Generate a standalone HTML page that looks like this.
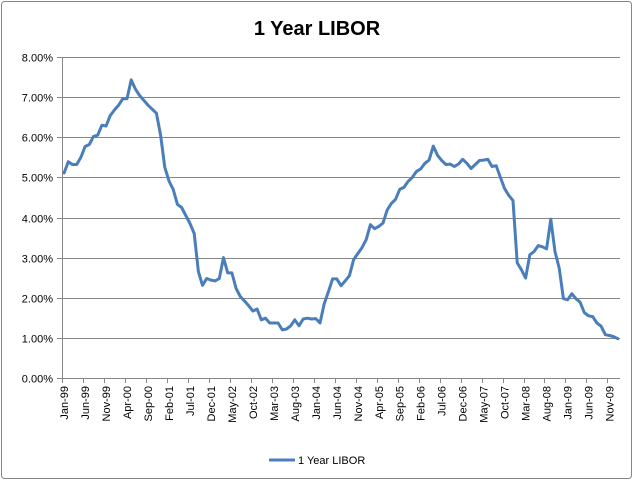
<!DOCTYPE html>
<html><head><meta charset="utf-8"><style>
html,body{margin:0;padding:0;background:#fff}
svg{display:block;font-family:"Liberation Sans",Arial,sans-serif}
</style></head><body>
<svg id="chart" width="634" height="481" viewBox="0 0 634 481" xmlns="http://www.w3.org/2000/svg">
<rect x="1.5" y="1.5" width="630" height="477" rx="3" fill="#fff" stroke="#868686" stroke-width="1"/>
<text x="317" y="35" text-anchor="middle" font-size="20" font-weight="bold" fill="#000">1 Year LIBOR</text>
<g id="grid"></g>
<g id="yaxis"></g>
<g id="xaxis"></g>
<g id="series"></g>
<g>
<line x1="269" y1="460" x2="295" y2="460" stroke="#4a7ebb" stroke-width="3"/>
<text x="298" y="464" font-size="11" fill="#000">1 Year LIBOR</text>
</g>
</svg>
<script>
const yTicks = [0,1,2,3,4,5,6,7,8];
const startYear = 1999;
const libor = [
5.11,5.39,5.32,5.32,5.50,5.77,5.82,6.02,6.05,6.30,6.28,6.54,
6.68,6.80,6.96,6.96,7.43,7.20,7.04,6.92,6.80,6.70,6.60,6.05,
5.25,4.91,4.70,4.33,4.25,4.05,3.85,3.60,2.65,2.31,2.48,2.44,
2.42,2.48,3.00,2.62,2.62,2.23,2.03,1.92,1.80,1.67,1.72,1.45,
1.49,1.37,1.37,1.37,1.20,1.22,1.30,1.45,1.30,1.47,1.49,1.47,
1.48,1.37,1.85,2.15,2.47,2.47,2.30,2.42,2.55,2.95,3.10,3.25,
3.45,3.82,3.72,3.78,3.86,4.19,4.35,4.45,4.70,4.75,4.90,5.00,
5.15,5.21,5.35,5.43,5.78,5.55,5.42,5.32,5.33,5.27,5.33,5.45,
5.35,5.22,5.32,5.42,5.43,5.45,5.27,5.29,5.00,4.72,4.55,4.42,
2.87,2.70,2.49,3.07,3.15,3.30,3.27,3.22,3.96,3.15,2.74,1.98,
1.95,2.10,1.98,1.89,1.63,1.55,1.53,1.37,1.29,1.08,1.06,1.03,
0.98];
const months = ["Jan","Feb","Mar","Apr","May","Jun","Jul","Aug","Sep","Oct","Nov","Dec"];
const NS = "http://www.w3.org/2000/svg";
const L = 62, R = 620, T = 57, B = 378;
const n = libor.length, step = (R - L) / n;
const x = i => L + step * (i + 0.5);
const y = v => B - (v / 8) * (B - T);
function mk(tag, attrs, parent){const e=document.createElementNS(NS,tag);for(const k in attrs)e.setAttribute(k,attrs[k]);parent.appendChild(e);return e;}
const grid=document.getElementById('grid'), ya=document.getElementById('yaxis'), xa=document.getElementById('xaxis'), ser=document.getElementById('series');
yTicks.forEach(t=>{
  const yy=Math.round(y(t))+0.5;
  if(t>0){const g=mk('line',{x1:L,x2:R,y1:yy,y2:yy,stroke:'#868686','stroke-width':1},grid);
    
    }
  const tk=mk('line',{x1:L-5,x2:L,y1:yy,y2:yy,stroke:'#868686'},ya);
  
  
  const lb=mk('text',{x:L-9,y:yy+4,'text-anchor':'end','font-size':11,fill:'#000'},ya);
  
  
  lb.textContent=t.toFixed(2)+'%';
});
const ax=mk('line',{x1:L+0.5,x2:L+0.5,y1:T,y2:B,stroke:'#868686'},ya);


const bx=mk('line',{x1:L,x2:R,y1:B+0.5,y2:B+0.5,stroke:'#868686'},xa);


for(let i=0;i<=n;i+=5){
  const xx=Math.round(L+step*i)+0.5;
  const tk=mk('line',{x1:xx,x2:xx,y1:B,y2:B+5,stroke:'#868686'},xa);
  
  
  if(i<n){
    const m=months[i%12], yr=String((startYear+Math.floor(i/12))%100).padStart(2,'0');
    const cx=x(i)+4;
    const lb=mk('text',{x:0,y:0,'text-anchor':'end','font-size':11,fill:'#000',transform:`translate(${cx},${B+8}) rotate(-90)`},xa);
    
    
    lb.textContent=m+'-'+yr;
  }
}
const pts=libor.map((v,i)=>x(i).toFixed(1)+','+y(v).toFixed(1)).join(' ');
const pl=mk('polyline',{points:pts,fill:'none',stroke:'#4a7ebb','stroke-width':3,'stroke-linejoin':'round','stroke-linecap':'round'},ser);


</script>
</body></html>
